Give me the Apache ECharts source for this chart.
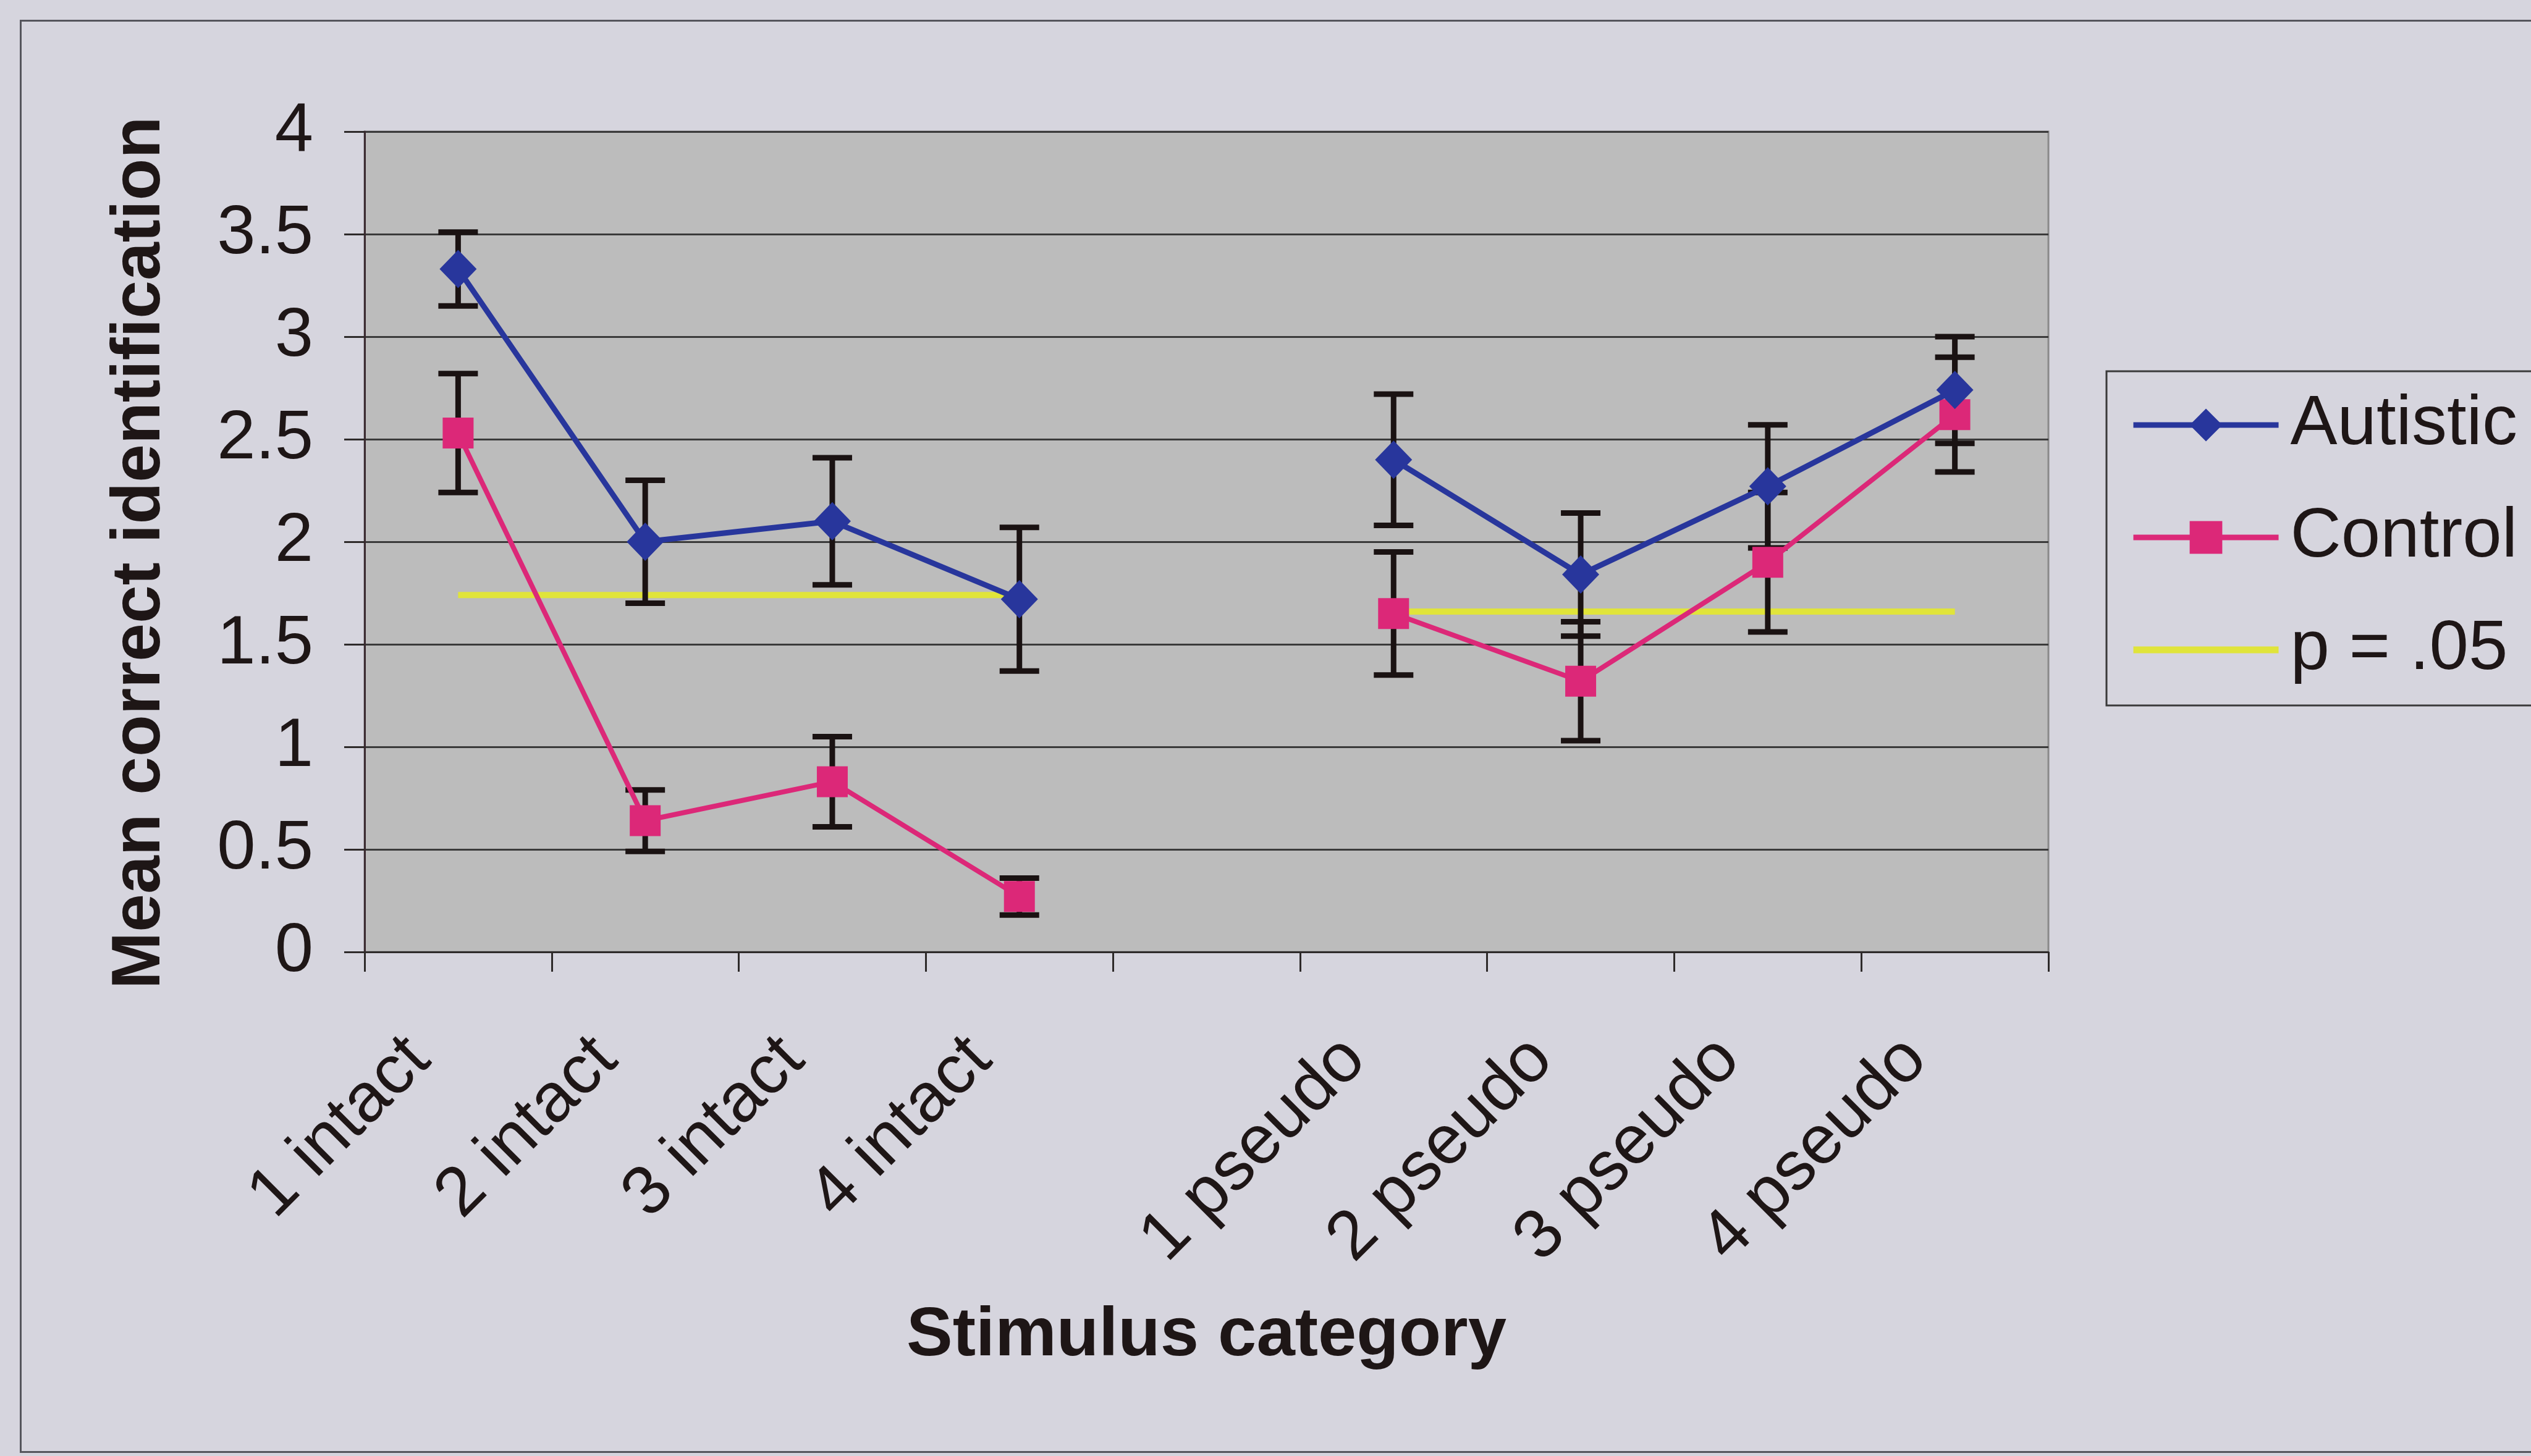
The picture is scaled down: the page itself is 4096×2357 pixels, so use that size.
<!DOCTYPE html>
<html>
<head>
<meta charset="utf-8">
<script src="https://cdn.jsdelivr.net/npm/echarts@6/dist/echarts.min.js"></script>
<style>
html,body{margin:0;padding:0;background:#d6d5de;}
#chart{width:4096px;height:2357px;}
</style>
</head>
<body>
<div id="chart"></div>
<script>
// ---- data ----
var categories = ['1 intact', '2 intact', '3 intact', '4 intact', '', '1 pseudo', '2 pseudo', '3 pseudo', '4 pseudo'];
var autisticMean = [3.33, 2.00, 2.10, 1.72, null, 2.40, 1.84, 2.27, 2.74];
var autisticErr  = [0.18, 0.30, 0.31, 0.35, null, 0.32, 0.30, 0.30, 0.26];
var controlMean  = [2.53, 0.64, 0.83, 0.27, null, 1.65, 1.32, 1.90, 2.62];
var controlErr   = [0.29, 0.15, 0.22, 0.09, null, 0.30, 0.29, 0.34, 0.28];
var pLine        = [1.74, 1.74, 1.74, 1.74, null, 1.66, 1.66, 1.66, 1.66];
var yTicks = { min: 0, max: 4, interval: 0.5 };
var seriesNames = ['Autistic', 'Control', 'p = .05'];

var FONT = '"Liberation Sans", Arial, Helvetica, sans-serif';
var TEXT = '#1e1616';
var colors = { autistic: '#28369c', control: '#dc2878', p: '#e0e43a' };

function errData(mean, err) {
  var out = [];
  for (var i = 0; i < mean.length; i++) {
    if (mean[i] == null) continue;
    out.push([i, mean[i] - err[i], mean[i] + err[i]]);
  }
  return out;
}

function errRender(params, api) {
  var x = api.value(0);
  var pLo = api.coord([x, api.value(1)]);
  var pHi = api.coord([x, api.value(2)]);
  var hw = 32;
  var st = { stroke: '#1a1212', lineWidth: 9 };
  return {
    type: 'group',
    children: [
      { type: 'line', shape: { x1: pLo[0], y1: pLo[1], x2: pHi[0], y2: pHi[1] }, style: st },
      { type: 'line', shape: { x1: pLo[0] - hw, y1: pLo[1], x2: pLo[0] + hw, y2: pLo[1] }, style: st },
      { type: 'line', shape: { x1: pHi[0] - hw, y1: pHi[1], x2: pHi[0] + hw, y2: pHi[1] }, style: st }
    ]
  };
}

var chart = echarts.init(document.getElementById('chart'), null, { renderer: 'canvas' });
var option = {
  backgroundColor: '#d6d5de',
  animation: false,
  textStyle: { fontFamily: FONT, color: TEXT },
  graphic: [{
    type: 'rect', left: 31, top: 31, z: -10, silent: true,
    shape: { width: 4200, height: 2317 },
    style: { fill: 'none', stroke: '#55555c', lineWidth: 3 }
  }],
  grid: {
    left: 590, top: 213, width: 2725, height: 1328,
    show: true, backgroundColor: '#bcbcbc', borderColor: '#8a8a8a', borderWidth: 3
  },
  legend: {
    data: [
      { name: seriesNames[0] },
      { name: seriesNames[1] },
      { name: seriesNames[2], icon: 'path://M0,0 H235 V11 H0 Z' }
    ],
    orient: 'vertical',
    left: 3409, top: 601,
    padding: [30, 220, 33, 39],
    itemWidth: 235, itemHeight: 66, itemGap: 68,
    borderColor: '#3a3a3a', borderWidth: 3,
    backgroundColor: '#d6d5de',
    lineStyle: { width: 9 },
    textStyle: { fontFamily: FONT, fontSize: 114, color: TEXT, lineHeight: 112, padding: [0, 0, 0, 14] }
  },
  xAxis: {
    type: 'category',
    data: categories,
    boundaryGap: true,
    name: 'Stimulus category',
    nameLocation: 'middle',
    nameGap: 566,
    nameTextStyle: { fontFamily: FONT, fontSize: 112, fontWeight: 'bold', color: TEXT },
    axisLine: { show: true, lineStyle: { color: '#2e2a2a', width: 3 } },
    axisTick: { show: true, interval: 0, length: 32, inside: false, lineStyle: { color: '#2e2a2a', width: 3 } },
    axisLabel: { interval: 0, rotate: 45, margin: 94, padding: [0, 89, 0, 0], fontFamily: FONT, fontSize: 112, color: TEXT },
    splitLine: { show: false }
  },
  yAxis: {
    type: 'value',
    min: yTicks.min, max: yTicks.max, interval: yTicks.interval,
    name: 'Mean correct identification',
    nameLocation: 'middle',
    nameGap: 307,
    nameTextStyle: { fontFamily: FONT, fontSize: 111, fontWeight: 'bold', color: TEXT, padding: [0, 36, 0, 0] },
    axisLine: { show: true, lineStyle: { color: '#3a2a30', width: 3 } },
    axisTick: { show: true, length: 33, inside: false, lineStyle: { color: '#2e2a2a', width: 3 } },
    axisLabel: { margin: 83, fontFamily: FONT, fontSize: 112, color: TEXT },
    splitLine: { show: true, lineStyle: { color: '#3a3a3a', width: 3 } }
  },
  series: [
    {
      name: 'p = .05', type: 'line', data: pLine, z: 3,
      symbol: 'none', showSymbol: false, connectNulls: false,
      lineStyle: { color: colors.p, width: 10 }, itemStyle: { color: colors.p }
    },
    {
      name: 'autistic-err', type: 'custom', data: errData(autisticMean, autisticErr),
      renderItem: errRender, z: 4, silent: true
    },
    {
      name: 'control-err', type: 'custom', data: errData(controlMean, controlErr),
      renderItem: errRender, z: 4, silent: true
    },
    {
      name: 'Control', type: 'line', data: controlMean, z: 5,
      symbol: 'rect', symbolSize: 50, connectNulls: false,
      lineStyle: { color: colors.control, width: 8 }, itemStyle: { color: colors.control }
    },
    {
      name: 'Autistic', type: 'line', data: autisticMean, z: 6,
      symbol: 'diamond', symbolSize: [60, 62], connectNulls: false,
      lineStyle: { color: colors.autistic, width: 9 }, itemStyle: { color: colors.autistic }
    }
  ]
};
chart.setOption(option);
</script>
</body>
</html>
